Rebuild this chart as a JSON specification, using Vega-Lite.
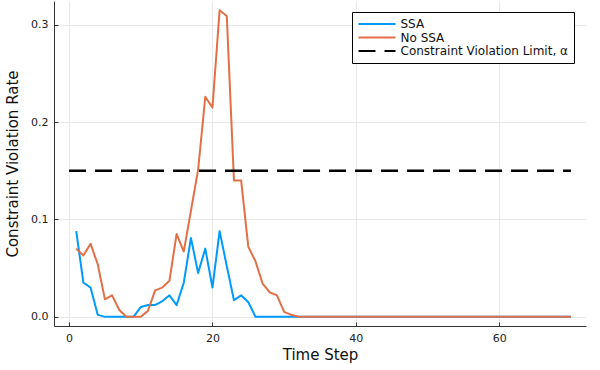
{
  "$schema": "https://vega.github.io/schema/vega-lite/v6.json",
  "width": 532,
  "height": 325,
  "autosize": {"type": "none"},
  "padding": {"left": 54, "top": 1, "right": 14, "bottom": 44},
  "background": "white",
  "config": {
    "font": "DejaVu Sans",
    "view": {"stroke": null},
    "axis": {
      "domainColor": "#333333",
      "domainWidth": 1,
      "tickColor": "#333333",
      "tickSize": -4,
      "gridColor": "#e8e8e8",
      "gridWidth": 1,
      "labelFont": "DejaVu Sans",
      "labelFontSize": 11,
      "labelColor": "#222222",
      "titleFont": "DejaVu Sans",
      "titleFontSize": 15,
      "titleFontWeight": "normal",
      "titleColor": "#111111"
    }
  },
  "datasets": {
    "series": [
      {"t": 1, "rate": 0.088, "series": "SSA"},
      {"t": 2, "rate": 0.035, "series": "SSA"},
      {"t": 3, "rate": 0.030, "series": "SSA"},
      {"t": 4, "rate": 0.002, "series": "SSA"},
      {"t": 5, "rate": 0.0, "series": "SSA"},
      {"t": 6, "rate": 0.0, "series": "SSA"},
      {"t": 7, "rate": 0.0, "series": "SSA"},
      {"t": 8, "rate": 0.0, "series": "SSA"},
      {"t": 9, "rate": 0.0, "series": "SSA"},
      {"t": 10, "rate": 0.010, "series": "SSA"},
      {"t": 11, "rate": 0.012, "series": "SSA"},
      {"t": 12, "rate": 0.012, "series": "SSA"},
      {"t": 13, "rate": 0.016, "series": "SSA"},
      {"t": 14, "rate": 0.022, "series": "SSA"},
      {"t": 15, "rate": 0.012, "series": "SSA"},
      {"t": 16, "rate": 0.035, "series": "SSA"},
      {"t": 17, "rate": 0.081, "series": "SSA"},
      {"t": 18, "rate": 0.045, "series": "SSA"},
      {"t": 19, "rate": 0.070, "series": "SSA"},
      {"t": 20, "rate": 0.030, "series": "SSA"},
      {"t": 21, "rate": 0.088, "series": "SSA"},
      {"t": 22, "rate": 0.052, "series": "SSA"},
      {"t": 23, "rate": 0.017, "series": "SSA"},
      {"t": 24, "rate": 0.022, "series": "SSA"},
      {"t": 25, "rate": 0.015, "series": "SSA"},
      {"t": 26, "rate": 0.0, "series": "SSA"},
      {"t": 27, "rate": 0.0, "series": "SSA"},
      {"t": 28, "rate": 0.0, "series": "SSA"},
      {"t": 29, "rate": 0.0, "series": "SSA"},
      {"t": 30, "rate": 0.0, "series": "SSA"},
      {"t": 35, "rate": 0.0, "series": "SSA"},
      {"t": 40, "rate": 0.0, "series": "SSA"},
      {"t": 45, "rate": 0.0, "series": "SSA"},
      {"t": 50, "rate": 0.0, "series": "SSA"},
      {"t": 55, "rate": 0.0, "series": "SSA"},
      {"t": 60, "rate": 0.0, "series": "SSA"},
      {"t": 65, "rate": 0.0, "series": "SSA"},
      {"t": 70, "rate": 0.0, "series": "SSA"},
      {"t": 1, "rate": 0.070, "series": "No SSA"},
      {"t": 2, "rate": 0.063, "series": "No SSA"},
      {"t": 3, "rate": 0.075, "series": "No SSA"},
      {"t": 4, "rate": 0.054, "series": "No SSA"},
      {"t": 5, "rate": 0.018, "series": "No SSA"},
      {"t": 6, "rate": 0.022, "series": "No SSA"},
      {"t": 7, "rate": 0.007, "series": "No SSA"},
      {"t": 8, "rate": 0.0, "series": "No SSA"},
      {"t": 9, "rate": 0.0, "series": "No SSA"},
      {"t": 10, "rate": 0.0, "series": "No SSA"},
      {"t": 11, "rate": 0.006, "series": "No SSA"},
      {"t": 12, "rate": 0.027, "series": "No SSA"},
      {"t": 13, "rate": 0.030, "series": "No SSA"},
      {"t": 14, "rate": 0.037, "series": "No SSA"},
      {"t": 15, "rate": 0.085, "series": "No SSA"},
      {"t": 16, "rate": 0.067, "series": "No SSA"},
      {"t": 17, "rate": 0.109, "series": "No SSA"},
      {"t": 18, "rate": 0.151, "series": "No SSA"},
      {"t": 19, "rate": 0.226, "series": "No SSA"},
      {"t": 20, "rate": 0.215, "series": "No SSA"},
      {"t": 21, "rate": 0.315, "series": "No SSA"},
      {"t": 22, "rate": 0.309, "series": "No SSA"},
      {"t": 23, "rate": 0.140, "series": "No SSA"},
      {"t": 24, "rate": 0.140, "series": "No SSA"},
      {"t": 25, "rate": 0.072, "series": "No SSA"},
      {"t": 26, "rate": 0.057, "series": "No SSA"},
      {"t": 27, "rate": 0.034, "series": "No SSA"},
      {"t": 28, "rate": 0.025, "series": "No SSA"},
      {"t": 29, "rate": 0.022, "series": "No SSA"},
      {"t": 30, "rate": 0.005, "series": "No SSA"},
      {"t": 31, "rate": 0.002, "series": "No SSA"},
      {"t": 32, "rate": 0.0, "series": "No SSA"},
      {"t": 35, "rate": 0.0, "series": "No SSA"},
      {"t": 40, "rate": 0.0, "series": "No SSA"},
      {"t": 45, "rate": 0.0, "series": "No SSA"},
      {"t": 50, "rate": 0.0, "series": "No SSA"},
      {"t": 55, "rate": 0.0, "series": "No SSA"},
      {"t": 60, "rate": 0.0, "series": "No SSA"},
      {"t": 65, "rate": 0.0, "series": "No SSA"},
      {"t": 70, "rate": 0.0, "series": "No SSA"}
    ],
    "limit": [
      {"t": 0, "rate": 0.15, "series": "Constraint Violation Limit, α"},
      {"t": 70, "rate": 0.15, "series": "Constraint Violation Limit, α"}
    ]
  },
  "layer": [
    {
      "data": {"name": "series"},
      "mark": {"type": "line", "strokeWidth": 2, "strokeJoin": "round"},
      "encoding": {
        "x": {"field": "t", "type": "quantitative"},
        "y": {"field": "rate", "type": "quantitative"},
        "color": {"field": "series", "type": "nominal"},
        "strokeDash": {"field": "series", "type": "nominal"}
      }
    },
    {
      "data": {"name": "limit"},
      "mark": {"type": "line", "strokeWidth": 2.5},
      "encoding": {
        "x": {"field": "t", "type": "quantitative"},
        "y": {"field": "rate", "type": "quantitative"},
        "color": {"field": "series", "type": "nominal"},
        "strokeDash": {"field": "series", "type": "nominal"}
      }
    }
  ],
  "resolve": {"scale": {"color": "shared", "strokeDash": "shared"}},
  "encoding": {
    "x": {
      "field": "t",
      "type": "quantitative",
      "title": "Time Step",
      "scale": {"domain": [-2.1, 72.1], "nice": false, "zero": false},
      "axis": {"values": [0, 20, 40, 60], "format": "d", "labelPadding": 10, "titlePadding": 4}
    },
    "y": {
      "field": "rate",
      "type": "quantitative",
      "title": "Constraint Violation Rate",
      "scale": {"domain": [-0.0095, 0.3245], "nice": false, "zero": false},
      "axis": {"values": [0, 0.1, 0.2, 0.3], "format": ".1f", "labelPadding": 10, "titlePadding": 10}
    },
    "color": {
      "field": "series",
      "type": "nominal",
      "scale": {
        "domain": ["SSA", "No SSA", "Constraint Violation Limit, α"],
        "range": ["#009AFA", "#E36F47", "#000000"]
      },
      "legend": {
        "title": null,
        "orient": "none",
        "legendX": 298,
        "legendY": 11,
        "symbolType": "stroke",
        "symbolSize": 1369,
        "symbolStrokeWidth": 2,
        "clipHeight": 13,
        "rowPadding": 0.5,
        "labelFont": "DejaVu Sans",
        "labelFontSize": 12,
        "labelColor": "#111111",
        "labelOffset": 4,
        "padding": 5.5,
        "strokeColor": "#000000",
        "fillColor": "white",
        "labelLimit": 400
      }
    },
    "strokeDash": {
      "field": "series",
      "type": "nominal",
      "scale": {
        "domain": ["SSA", "No SSA", "Constraint Violation Limit, α"],
        "range": [[1, 0], [1, 0], [17, 9]]
      },
      "legend": {
        "title": null,
        "orient": "none",
        "legendX": 298,
        "legendY": 11,
        "symbolType": "stroke",
        "symbolSize": 1369,
        "symbolStrokeWidth": 2,
        "clipHeight": 13,
        "rowPadding": 0.5,
        "labelFont": "DejaVu Sans",
        "labelFontSize": 12,
        "labelColor": "#111111",
        "labelOffset": 4,
        "padding": 5.5,
        "strokeColor": "#000000",
        "fillColor": "white",
        "labelLimit": 400
      }
    }
  }
}
